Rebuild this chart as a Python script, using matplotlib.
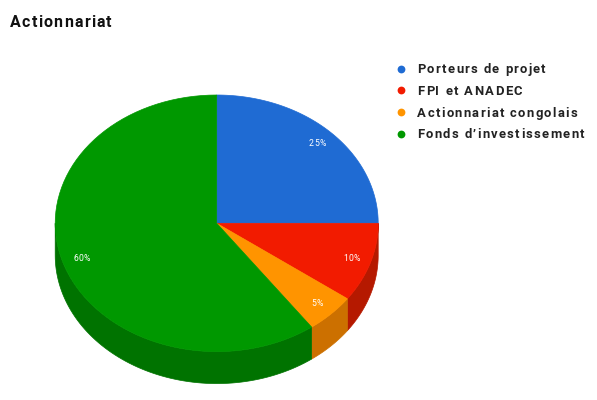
import numpy as np
import matplotlib.pyplot as plt
from matplotlib.patches import Polygon
from matplotlib.font_manager import FontProperties

# données
labels = ["Porteurs de projet", "FPI et ANADEC", "Actionnariat congolais", "Fonds d\u2019investissement"]
values = [25, 10, 5, 60]
colors = ["#1f6bd3", "#f21b00", "#ff9400", "#009800"]
side_colors = ["#174fa0", "#b51900", "#cc7000", "#007300"]

# géométrie du camembert (en pixels)
cx, cy = 216.7, 223.3
rx, ry = 161.5, 128.3
depth = 32

fig = plt.figure(figsize=(5.97, 4.0), dpi=100)
ax = fig.add_axes([0, 0, 1, 1])
ax.set_xlim(0, 597)
ax.set_ylim(400, 0)
ax.axis("off")
renderer = fig.canvas.get_renderer()


def spaced_text(x, y, s, size, track, weight="normal", ha="left", **kw):
    # texte avec espacement des lettres (en pixels)
    prop = FontProperties(family="Roboto", weight=weight, size=size)
    wl = renderer.get_text_width_height_descent("l", prop, ismath=False)[0]

    def width(t):
        return renderer.get_text_width_height_descent(t + "l", prop, ismath=False)[0] - wl

    pos = [width(s[:k]) + k * track for k in range(len(s))]
    total = width(s) + track * (len(s) - 1)
    x0 = x - total / 2 if ha == "center" else x
    for p, ch in zip(pos, s):
        ax.text(x0 + p, y, ch, fontproperties=prop, ha="left", va="baseline", **kw)


def arc(t0, t1, n=80):
    t = np.radians(np.linspace(t0, t1, n))
    return cx + rx * np.sin(t), cy - ry * np.cos(t)


fracs = np.array(values) / sum(values)
bounds = np.concatenate([[0], np.cumsum(fracs) * 360])

# côtés (partie avant seulement : 90° à 270°)
for i in range(len(values)):
    a0, a1 = max(bounds[i], 90), min(bounds[i + 1], 270)
    if a1 <= a0:
        continue
    x, y = arc(a0, a1)
    pts = np.column_stack([np.r_[x, x[::-1]], np.r_[y, y[::-1] + depth]])
    ax.add_patch(Polygon(pts, closed=True, fc=side_colors[i], ec=side_colors[i], lw=0.5))

# dessus
for i in range(len(values)):
    x, y = arc(bounds[i], bounds[i + 1])
    pts = np.column_stack([np.r_[cx, x], np.r_[cy, y]])
    ax.add_patch(Polygon(pts, closed=True, fc=colors[i], ec=colors[i], lw=0.5))
    mid = np.radians((bounds[i] + bounds[i + 1]) / 2)
    spaced_text(cx + 0.88 * rx * np.sin(mid), cy - 0.88 * ry * np.cos(mid) + 3.0,
                f"{values[i]}%", 6.2, 0.5, ha="center", color="white")

# titre
spaced_text(10, 27.3, "Actionnariat", 11.5, 1.2, weight="bold", color="#111111")

# légende
for i, lab in enumerate(labels):
    base = 73.3 + i * 21.67
    ax.plot(400.5, base - 4.65, "o", ms=5.6, color=colors[i], mec="none")
    spaced_text(417.3, base, lab, 9.4, 1.35, weight="bold", color="#222222")

fig.savefig("out.png", dpi=100)
